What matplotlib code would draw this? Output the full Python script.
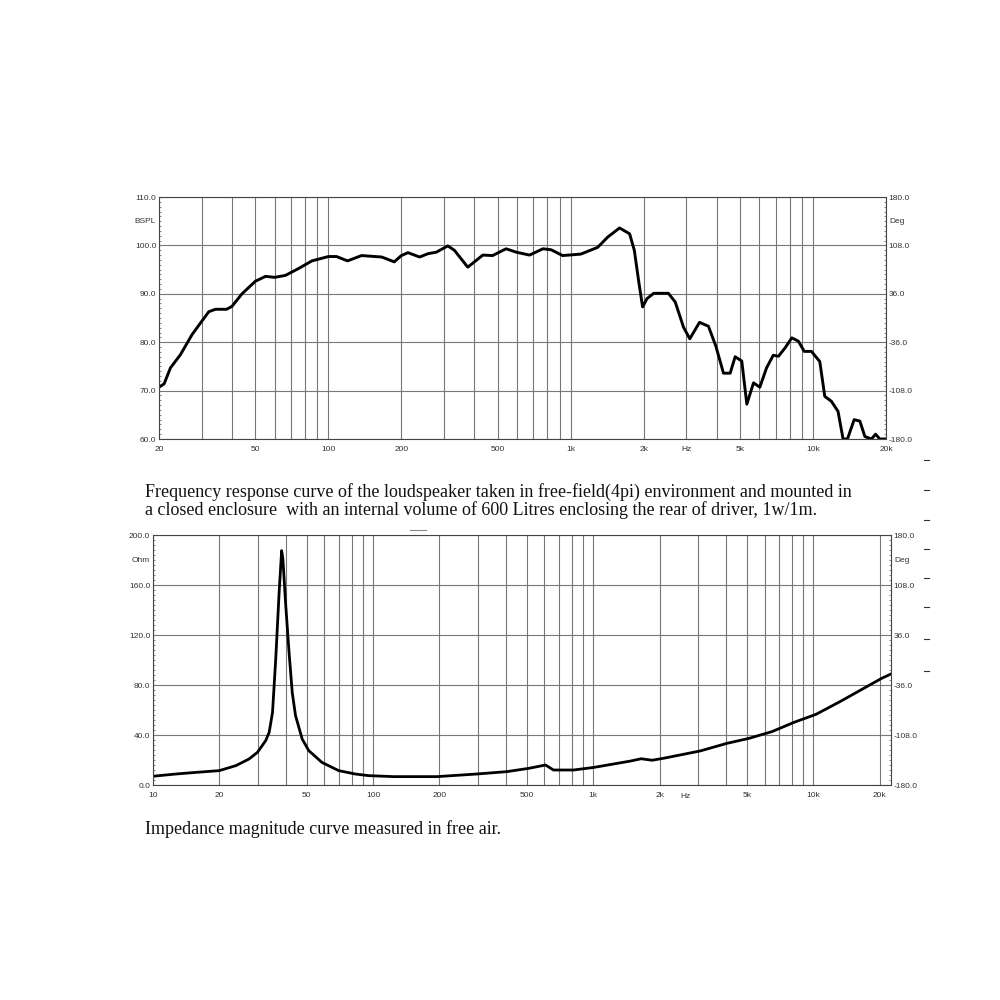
import matplotlib.pyplot as plt
from matplotlib.ticker import MultipleLocator, NullFormatter

# === 数据===
# 频率响应曲线 (Hz, dB SPL)
spl_freq = [20, 21, 22.3, 24.5, 27.4, 30, 32.1, 34.2, 38, 40, 44, 50, 55, 60, 66.5,
            75.8, 85.5, 100, 108, 120, 137, 166, 187, 200, 213, 238, 258, 279, 311,
            331, 376, 434, 476, 541, 596, 676, 768, 830, 926, 1100, 1292, 1420, 1590,
            1750, 1830, 1910, 1980, 2064, 2200, 2530, 2700, 2920, 3100, 3400, 3700,
            3970, 4270, 4550, 4770, 5080, 5330, 5680, 6030, 6430, 6850, 7200, 7660,
            8170, 8700, 9200, 9850, 10660, 11180, 11900, 12680, 13300, 13870, 14780,
            15600, 16370, 17430, 18110, 18850, 20000]
spl_db = [70.7, 71.4, 74.7, 77.4, 81.6, 84.3, 86.3, 86.8, 86.8, 87.4, 90.0, 92.6, 93.6,
          93.4, 93.8, 95.3, 96.8, 97.7, 97.7, 96.8, 97.9, 97.6, 96.6, 97.9, 98.5, 97.6,
          98.3, 98.6, 99.9, 99.0, 95.5, 98.0, 97.9, 99.3, 98.6, 98.0, 99.3, 99.1, 97.9,
          98.2, 99.6, 101.7, 103.6, 102.4, 99.0, 92.4, 87.3, 89.0, 90.1, 90.1, 88.3,
          83.1, 80.7, 84.1, 83.3, 79.2, 73.6, 73.6, 77.0, 76.1, 67.2, 71.6, 70.7, 74.7,
          77.3, 77.1, 78.8, 80.9, 80.2, 78.1, 78.1, 76.0, 68.8, 67.8, 65.7, 60.0, 60.0,
          64.0, 63.7, 60.5, 60.0, 61.0, 60.0, 60.0]

# 阻抗曲线 (Hz, Ohm)
imp_freq = [10, 12.7, 15.7, 20, 23.8, 27.3, 29.8, 32.5, 33.7, 34.9, 36.1, 37.4, 38.4,
            38.9, 40.0, 41.5, 42.9, 44.4, 47.6, 51, 58.5, 69.7, 82.9, 95.2, 123.6, 195,
            296, 405, 508, 607, 659, 813, 1000, 1470, 1650, 1850, 2100, 3052, 4040,
            5090, 6480, 8150, 10260, 13200, 17470, 20390, 22300]
imp_ohm = [7.0, 8.8, 10.1, 11.5, 15.5, 20.8, 26.1, 35.5, 42.1, 58, 100.8, 154, 187.5,
           181, 146, 106, 74, 55.5, 36.8, 27.5, 18.1, 11.5, 8.8, 7.5, 6.7, 6.7, 8.8,
           10.7, 13.3, 16, 12, 12, 14, 19.1, 21, 19.8, 21.5, 27.2, 33.3, 37.3, 42.7,
           50.1, 56.5, 66.7, 78.7, 85.3, 88.5]

# 刻度标签
x_labels = {10: '10', 20: '20', 50: '50', 100: '100', 200: '200', 500: '500',
            1000: '1k', 2000: '2k', 5000: '5k', 10000: '10k', 20000: '20k'}
deg_ticks = [-180, -108, -36, 36, 108, 180]
grid_f = [k * 10 ** n for n in range(1, 5) for k in range(1, 10)]

caption1 = ("Frequency response curve of the loudspeaker taken in free-field(4pi) "
            "environment and mounted in")
caption2 = ("a closed enclosure  with an internal volume of 600 Litres enclosing "
            "the rear of driver, 1w/1m.")
caption3 = "Impedance magnitude curve measured in free air."

tick_font = dict(family='Liberation Sans', fontsize=6, color='#333333')
cap_font = dict(family='Liberation Serif', fontsize=13, color='#111111')


def setup(ax, xlim, ylim, yticks, ystep, unit, hz_pos):
    ax.set_xscale('log')
    ax.set_xlim(*xlim)
    ax.set_ylim(*ylim)
    gf = [f for f in grid_f if xlim[0] <= f <= xlim[1] * 1.001]
    ax.set_xticks(gf)
    ax.set_xticklabels([x_labels.get(f, '') for f in gf], **tick_font)
    ax.xaxis.set_minor_formatter(NullFormatter())
    ax.tick_params(axis='x', which='both', length=0, pad=5)
    ax.set_yticks(yticks)
    ax.set_yticklabels([f"{v:.1f}" for v in yticks], **tick_font)
    ax.yaxis.set_minor_locator(MultipleLocator(ystep))
    ax.tick_params(axis='y', which='major', length=0, pad=2)
    ax.tick_params(axis='y', which='minor', length=1.5, width=0.5, direction='in',
                   color='#555555')
    ax.grid(True, which='major', color='#777777', lw=0.8)
    for s in ax.spines.values():
        s.set_color('#444444')
        s.set_linewidth(0.8)
    ax.text(-0.004, 0.9, unit, transform=ax.transAxes, ha='right', va='center',
            **tick_font)
    ax.text(hz_pos, -0.045, 'Hz', transform=ax.get_xaxis_transform(), ha='center',
            va='center', **tick_font)

    ax2 = ax.twinx()
    ax2.set_ylim(-180, 180)
    ax2.set_yticks(deg_ticks)
    ax2.set_yticklabels([f"{v:.1f}" for v in deg_ticks], **tick_font)
    ax2.yaxis.set_minor_locator(MultipleLocator(7.2))
    ax2.tick_params(axis='y', which='major', length=0, pad=2)
    ax2.tick_params(axis='y', which='minor', length=1.5, width=0.5, direction='in',
                    color='#555555')
    for s in ax2.spines.values():
        s.set_visible(False)
    ax2.text(1.005, 0.9, 'Deg', transform=ax.transAxes, ha='left', va='center',
             **tick_font)
    return ax2


fig = plt.figure(figsize=(10, 10), dpi=100, facecolor='white')

# === 频率响应 ===
ax1 = fig.add_axes([0.159, 0.561, 0.727, 0.242])
setup(ax1, (20, 20000), (60, 110), [60, 70, 80, 90, 100, 110], 1, 'BSPL', 3000)
ax1.plot(spl_freq, spl_db, color='black', lw=2.1, solid_joinstyle='round')

# === 阻抗 ===
ax3 = fig.add_axes([0.153, 0.215, 0.738, 0.250])
setup(ax3, (10, 22500), (0, 200), [0, 40, 80, 120, 160, 200], 4, 'Ohm', 2630)
ax3.plot(imp_freq, imp_ohm, color='black', lw=2.0, solid_joinstyle='round')

# === 说明文字 ===
fig.text(0.145, 0.508, caption1, ha='left', va='center', **cap_font)
fig.text(0.145, 0.490, caption2, ha='left', va='center', **cap_font)
fig.text(0.145, 0.171, caption3, ha='left', va='center', **cap_font)

# 右侧的小短线
for yy in [460, 490, 520, 549, 578, 607, 639, 671]:
    fig.add_artist(plt.Line2D([0.924, 0.929], [1 - yy / 1000] * 2, color='#333333',
                              lw=0.8))
fig.add_artist(plt.Line2D([0.410, 0.426], [0.470, 0.470], color='#888888', lw=0.8))

fig.savefig('out.png', dpi=100, facecolor='white')
